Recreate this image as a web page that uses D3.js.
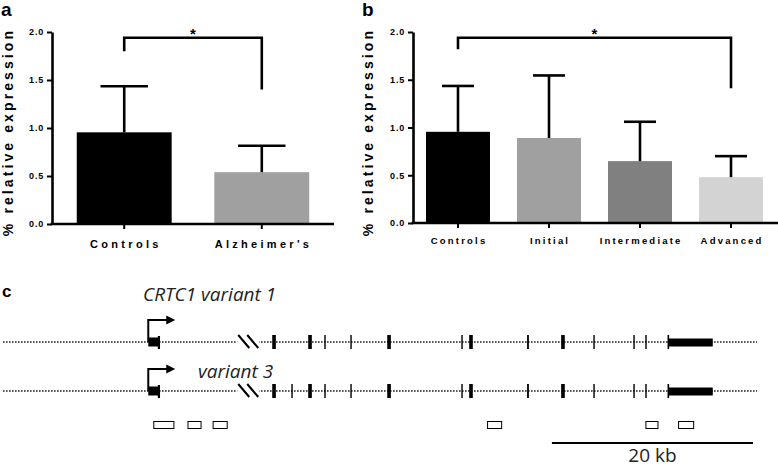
<!DOCTYPE html>
<html><head><meta charset="utf-8">
<script src="https://cdn.jsdelivr.net/npm/d3@7"></script>
<style>body{margin:0;background:#fff} svg{display:block}</style>
</head><body>
<svg id="chart" width="778" height="467"></svg>
<script>
// ---------- Data ----------
// Panel a
const aCategories = ["Controls", "Alzheimer's"];
const aMeans = [0.955, 0.54];
const aUpper = [1.435, 0.815];          // mean + SD (upper whisker)
// Panel b
const bCategories = ["Controls", "Initial", "Intermediate", "Advanced"];
const bMeans = [0.955, 0.89, 0.648, 0.48];
const bUpper = [1.435, 1.545, 1.06, 0.70];
const yTicks = [0, 0.5, 1.0, 1.5, 2.0];
// significance brackets: [from, to], [left leg end, bar level, right leg end]
const aBracketPair = ["Controls", "Alzheimer's"];
const aBracketLevels = [1.80, 1.94, 1.40];
const bBracketPair = ["Controls", "Advanced"];
const bBracketLevels = [1.82, 1.94, 1.41];
// Panel c (genomic positions, kb)
const geneSpan = [0, 75];
const tssKb = [14.45];
const firstExon = [14.45, 15.6];
const lastExon = [66.15, 70.6];
const breakKb = [23.4];
const variant1Exons = [[26.78,27.14],[30.36,30.72],[31.96,32.10],[34.55,34.69],[38.22,38.58],
  [45.59,45.73],[46.37,46.73],[52.13,52.31],[55.52,55.88],[58.72,58.86],[62.70,62.84],[63.89,64.03]];
const variant3Exons = [[26.78,27.14],[28.68,28.82],[30.36,30.72],[31.96,32.10],[34.55,34.69],[38.22,38.58],
  [45.59,45.73],[46.37,46.73],[52.13,52.31],[55.52,55.88],[58.72,58.86],[62.70,62.84],[63.89,64.03]];
const variantNames = ["CRTC1 variant 1", "variant 3"];
const primerAmplicons = [[15.0,17.0],[18.4,19.7],[20.9,22.3],[48.2,49.6],[63.95,65.15],[67.2,68.7]];
const scaleBarKb = [54.6, 74.6];
const scaleBarLabel = "20 kb";

// ---------- Styles ----------
const aColors = ["#000000", "#a0a0a0"];
const bColors = ["#000000", "#a0a0a0", "#808080", "#d3d3d3"];
const boldFont = "'Liberation Sans', Arial, sans-serif";
const geneFont = "'Open Sans', sans-serif";

const svg = d3.select("#chart");

function barPanel(cfg) {
  const g = svg.append("g");
  const x = d3.scaleBand().domain(cfg.cats).range(cfg.xRange)
    .paddingInner(cfg.pIn).paddingOuter(cfg.pOut);
  const y = d3.scaleLinear().domain([0, 2]).range(cfg.yRange);

  // bars
  g.selectAll("rect.bar").data(cfg.cats).join("rect")
    .attr("x", d => x(d)).attr("width", x.bandwidth())
    .attr("y", (d, i) => y(cfg.means[i]))
    .attr("height", (d, i) => y(0) - y(cfg.means[i]))
    .attr("fill", (d, i) => cfg.colors[i]);

  // error bars
  const cap = x.bandwidth() / 2;
  const eb = g.append("g").attr("stroke", "#000").attr("stroke-width", 2.6);
  cfg.cats.forEach((c, i) => {
    const cx = x(c) + x.bandwidth() / 2;
    eb.append("line").attr("x1", cx).attr("x2", cx)
      .attr("y1", y(cfg.means[i])).attr("y2", y(cfg.upper[i]));
    eb.append("line").attr("x1", cx - cap / 2).attr("x2", cx + cap / 2)
      .attr("y1", y(cfg.upper[i])).attr("y2", y(cfg.upper[i]));
  });

  // y axis
  const ya = g.append("g").attr("transform", `translate(${cfg.xRange[0]},0)`)
    .call(d3.axisLeft(y).tickValues(yTicks).tickFormat(d3.format(".1f"))
      .tickSize(5).tickSizeOuter(0).tickPadding(3));
  ya.select(".domain").attr("stroke-width", 2.6);
  ya.selectAll(".tick line").attr("stroke-width", 2);
  ya.selectAll(".tick text").attr("font-family", boldFont).attr("font-weight", "bold")
    .attr("font-size", 9).attr("letter-spacing", 0.8).attr("fill", "#000");

  // x axis
  const xa = g.append("g").attr("transform", `translate(0,${y(0)})`)
    .call(d3.axisBottom(x).tickSize(5).tickSizeOuter(0).tickPadding(cfg.xPad));
  xa.select(".domain").attr("stroke-width", 2.6)
    .attr("d", `M${cfg.xRange[0] - 1.3},0H${cfg.axisEnd}`);
  xa.selectAll(".tick line").attr("stroke-width", 2);
  xa.selectAll(".tick text").attr("font-family", boldFont).attr("font-weight", "bold")
    .attr("font-size", cfg.xFont).attr("letter-spacing", cfg.xSpacing).attr("fill", "#000")
    .attr("dx", cfg.xSpacing / 2);

  // y label
  g.append("text").attr("transform", `translate(${cfg.labelX},${cfg.labelY}) rotate(-90)`)
    .attr("text-anchor", "middle").attr("font-family", boldFont).attr("font-weight", "bold")
    .attr("font-size", 14).attr("letter-spacing", 3.1).text("% relative expression");

  // panel letter
  g.append("text").attr("x", cfg.letterX).attr("y", 16).attr("font-family", boldFont)
    .attr("font-weight", "bold").attr("font-size", 19).text(cfg.letter);

  // bracket
  const bx1 = x(cfg.bracket[0]) + x.bandwidth() / 2;
  const bx2 = x(cfg.bracket[1]) + x.bandwidth() / 2;
  const lv = cfg.bracketLevels;
  g.append("path").attr("fill", "none").attr("stroke", "#000").attr("stroke-width", 2.6)
    .attr("d", `M${bx1},${y(lv[0])}V${y(lv[1])}H${bx2}V${y(lv[2])}`);
  g.append("text").attr("x", (bx1 + bx2) / 2).attr("y", y(lv[1]) + 1).attr("text-anchor", "middle")
    .attr("font-family", boldFont).attr("font-weight", "bold").attr("font-size", 15).text("*");
}

barPanel({cats: aCategories, means: aMeans, upper: aUpper, colors: aColors,
  xRange: [52, 334], pIn: 0.31, pOut: 0.18, yRange: [224, 32], axisEnd: 334,
  xPad: 11, xFont: 11, xSpacing: 3.3, labelX: 13, labelY: 132, letter: "a", letterX: 1,
  bracket: aBracketPair, bracketLevels: aBracketLevels});

barPanel({cats: bCategories, means: bMeans, upper: bUpper, colors: bColors,
  xRange: [413, 776], pIn: 0.297, pOut: 0.143, yRange: [223, 32], axisEnd: 778,
  xPad: 9.3, xFont: 9.5, xSpacing: 2.2, labelX: 373, labelY: 132, letter: "b", letterX: 362,
  bracket: bBracketPair, bracketLevels: bBracketLevels});

// ---------- Panel c ----------
const gx = d3.scaleLinear().domain(geneSpan).range([3, 757]);
const gc = svg.append("g");
gc.append("text").attr("x", 2).attr("y", 297).attr("font-family", boldFont)
  .attr("font-weight", "bold").attr("font-size", 17).text("c");

const tracks = [
  {y: 342, exons: variant1Exons, name: variantNames[0], nameX: 143, nameY: 301},
  {y: 391, exons: variant3Exons, name: variantNames[1], nameX: 198, nameY: 378}
];
tracks.forEach(t => {
  // intron dotted line
  gc.append("line").attr("x1", gx(geneSpan[0])).attr("x2", gx(geneSpan[1]))
    .attr("y1", t.y).attr("y2", t.y).attr("stroke", "#222").attr("stroke-width", 1.6)
    .attr("stroke-dasharray", "1.6 1.4");
  // break mark
  const bx = gx(breakKb[0]);
  gc.append("rect").attr("x", bx - 1).attr("y", t.y - 3).attr("width", 22).attr("height", 6).attr("fill", "#fff");
  [0, 9].forEach(o => gc.append("line").attr("x1", bx + o).attr("y1", t.y - 7)
    .attr("x2", bx + o + 11).attr("y2", t.y + 6).attr("stroke", "#000").attr("stroke-width", 2));
  // small exons
  gc.selectAll(null).data(t.exons).join("rect")
    .attr("x", d => gx(d[0])).attr("width", d => Math.max(1.3, gx(d[1]) - gx(d[0])))
    .attr("y", t.y - 7).attr("height", 14).attr("fill", "#000");
  // first exon
  gc.append("rect").attr("x", gx(firstExon[0])).attr("width", gx(firstExon[1]) - gx(firstExon[0]))
    .attr("y", t.y - 4.5).attr("height", 9).attr("fill", "#000");
  gc.append("rect").attr("x", gx(firstExon[1]) - 2).attr("width", 2.2)
    .attr("y", t.y - 6).attr("height", 13).attr("fill", "#000");
  // last exon
  gc.append("rect").attr("x", gx(lastExon[0])).attr("width", gx(lastExon[1]) - gx(lastExon[0]))
    .attr("y", t.y - 3.5).attr("height", 8).attr("fill", "#000");
  gc.append("rect").attr("x", gx(lastExon[0]) - 0.5).attr("width", 1.6)
    .attr("y", t.y - 7).attr("height", 14).attr("fill", "#000");
  // TSS arrow
  const ax = gx(tssKb[0]);
  gc.append("path").attr("fill", "none").attr("stroke", "#000").attr("stroke-width", 2)
    .attr("d", `M${ax},${t.y}V${t.y - 22}H${ax + 20}`);
  gc.append("path").attr("fill", "#000")
    .attr("d", `M${ax + 18},${t.y - 26.5}L${ax + 27},${t.y - 22}L${ax + 18},${t.y - 17.5}Z`);
  // name
  gc.append("text").attr("x", t.nameX).attr("y", t.nameY).attr("font-family", geneFont)
    .attr("font-style", "italic").attr("font-size", 19).attr("fill", "#222").text(t.name);
});

// primer amplicons
gc.selectAll("rect.primer").data(primerAmplicons).join("rect")
  .attr("x", d => gx(d[0])).attr("width", d => gx(d[1]) - gx(d[0]))
  .attr("y", 421.5).attr("height", 7).attr("fill", "#fff").attr("stroke", "#000").attr("stroke-width", 1);

// scale bar
gc.append("line").attr("x1", gx(scaleBarKb[0])).attr("x2", gx(scaleBarKb[1]))
  .attr("y1", 443).attr("y2", 443).attr("stroke", "#000").attr("stroke-width", 2);
gc.append("text").attr("x", (gx(scaleBarKb[0]) + gx(scaleBarKb[1])) / 2).attr("y", 462)
  .attr("text-anchor", "middle").attr("font-family", geneFont).attr("font-size", 19)
  .attr("fill", "#222").text(scaleBarLabel);
</script>
</body></html>
